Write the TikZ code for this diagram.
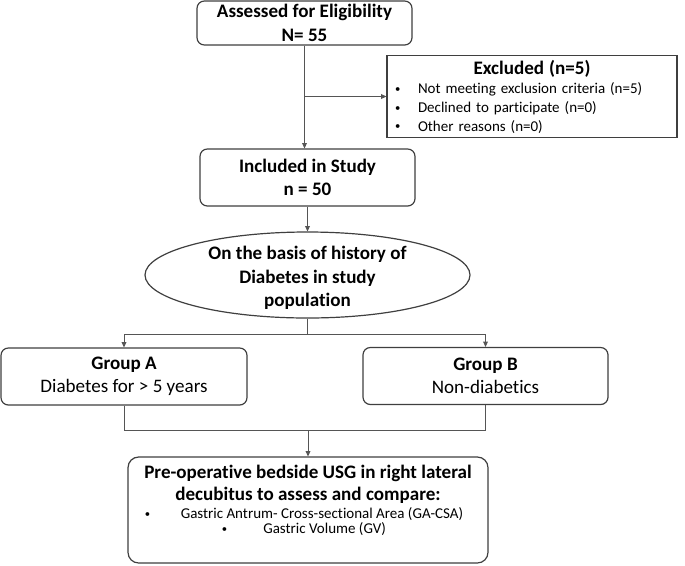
\documentclass[tikz,border=0pt]{standalone}
\usepackage{fontspec}
\setmainfont{Carlito}[Ligatures=NoCommon]
\usepackage{xcolor}
\usetikzlibrary{shapes.geometric, arrows.meta, positioning, calc}
\definecolor{dgray}{HTML}{3F3F3F}
\definecolor{lgray}{HTML}{555555}
\newcommand{\ttlfont}{\fontsize{14.3}{17.6}\selectfont\bfseries}
\newcommand{\txtfont}{\fontsize{14.3}{17.25}\selectfont}
\newcommand{\smfont}{\fontsize{11.25}{13.9}\selectfont}
\newcommand{\smbul}{\raisebox{0.9pt}{\fontsize{8}{8}\selectfont\textbullet}}

\begin{document}
\begin{tikzpicture}[
  x=0.75pt, y=-0.75pt,
  sbox/.style={rectangle, rounded corners=5.5pt, draw=dgray, line width=0.9pt,
               fill=white, align=center, inner sep=2pt},
  excbox/.style={rectangle, draw=dgray, line width=0.9pt, fill=white},
  oval/.style={ellipse, draw=dgray, line width=0.9pt, fill=white, inner sep=0pt},
  lnk/.style={lgray, line width=0.75pt},
  arr/.style={lnk, -{Triangle[length=4pt,width=3.6pt]}},
]
  \useasboundingbox (0,0) rectangle (685,565);

  \node[sbox, font=\ttlfont, minimum width=161.25pt, minimum height=33pt]
    (assess) at (304.5,23) {Assessed for Eligibility\\N= 55};
  \node[excbox, font=\smfont, minimum width=217.5pt, minimum height=57.75pt,
        text width=205.5pt, inner xsep=6pt, align=left]
    (excl) at (532,96.5)
    {\makebox[205.5pt][c]{\ttlfont Excluded (n=5)}\\[1pt]
     \makebox[17.25pt][l]{\smbul}Not meeting exclusion criteria (n=5)\\
     \makebox[17.25pt][l]{\smbul}Declined to participate (n=0)\\
     \makebox[17.25pt][l]{\smbul}Other reasons (n=0)};
  \node[sbox, font=\ttlfont, minimum width=161.25pt, minimum height=42.75pt]
    (incl) at (307.5,177.5) {Included in Study\\n = 50};

  % grouping by diabetes history
  \node[oval, minimum width=243.75pt, minimum height=64.5pt]
    (basis) at (307.5,275) {};
  \node[align=center, font=\ttlfont, inner sep=0pt] (basistxt)
    at ($(basis.center)+(0,3)$)
    {On the basis of history of\\Diabetes in study\\population};

  \node[sbox, font=\txtfont, minimum width=184.5pt, minimum height=42.75pt]
    (grpA) at (124,376.5) {\textbf{Group A}\\Diabetes for > 5 years};
  \node[sbox, font=\txtfont, minimum width=183.75pt, minimum height=42.75pt]
    (grpB) at (485.5,376) {\textbf{Group B}\\Non-diabetics};

  % outcome box
  \node[sbox, rounded corners=8pt, minimum width=270pt, minimum height=79.5pt]
    (final) at (308,510) {};
  \node[anchor=north, align=center, inner sep=0pt,
        font=\fontsize{14.3}{16.5}\selectfont\bfseries]
    (finalttl) at ($(final.north)+(0,8)$)
    {Pre-operative bedside USG in right lateral\\decubitus to assess and compare:};
  \node[below=3pt of finalttl, xshift=-3pt, align=center, inner sep=0pt,
        font=\fontsize{11.25}{11.5}\selectfont]
    (finallst)
    {\smbul\hspace{23pt}Gastric Antrum- Cross-sectional Area (GA-CSA)\\
     \smbul\hspace{27pt}Gastric Volume (GV)};

  \draw[arr] (assess.south) -- (assess.south |- incl.north);
  \draw[arr] (assess.south |- excl.west) -- (excl.west);
  \draw[arr] (incl.south) -- (basis.north);

  \coordinate (split) at ($(basis.south)+(0,16)$);
  \draw[lnk] (basis.south) -- (split);
  \draw[arr] (split) -| (grpA.north);
  \draw[arr] (split) -| (grpB.north);

  \coordinate (join) at ($(final.north)+(0,-26)$);
  \draw[lnk] (grpA.south) |- (join) -| (grpB.south);
  \draw[arr] (join) -- (final.north);
\end{tikzpicture}
\end{document}
